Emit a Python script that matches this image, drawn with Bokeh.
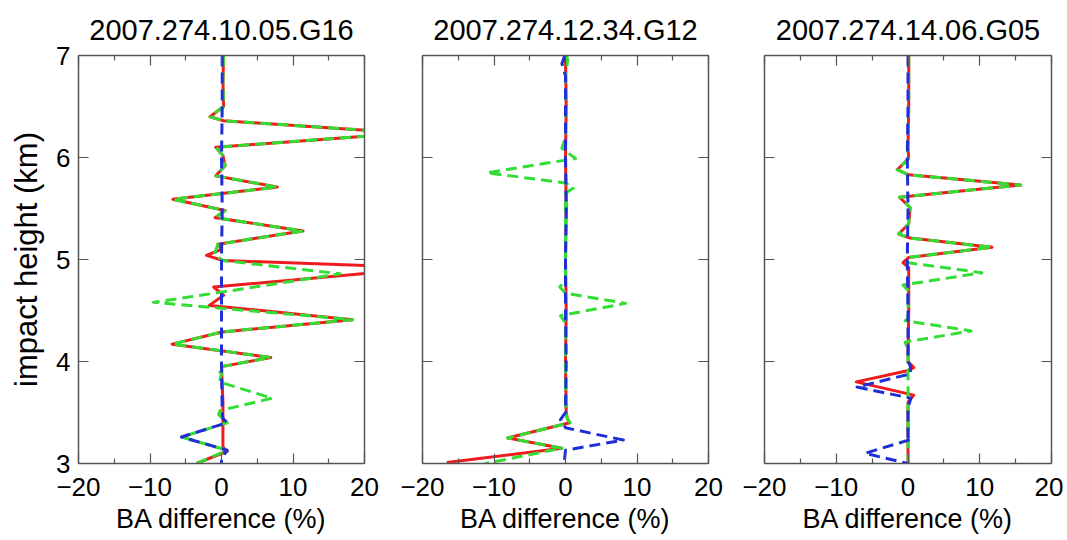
from bokeh.plotting import figure
from bokeh.layouts import row
from bokeh.models import Range1d, LinearAxis, FixedTicker
from bokeh.embed import file_html
from bokeh.resources import INLINE

# ---------------- data ----------------
titles = ["2007.274.10.05.G16", "2007.274.12.34.G12", "2007.274.14.06.G05"]
x_label = "BA difference (%)"
y_label = "impact height (km)"
x_ticks = [-20, -10, 0, 10, 20]
x_tick_labels = ["\u221220", "\u221210", "0", "10", "20"]
x_minor_ticks = [-15, -5, 5, 15]
y_ticks = [3, 4, 5, 6, 7]
y_tick_labels = ["3", "4", "5", "6", "7"]

# Panel 1 (G16)
p1_red_x = [0.3, 0.2, 0.3, -1.6, 0.3, 26.0, -0.8, 0.2, 0.5, -0.8, 7.8, -6.8, 0.5, -0.9, 11.4, -0.5, 0.0, -2.1, 0.2, 29.0, -1.1, 0.3, -1.7, 18.3, 0.1, -6.9, 6.9, 0.0, 0.2, 0.2, 0.8, -3.5]
p1_red_y = [7.0, 6.75, 6.50, 6.40, 6.36, 6.24, 6.10, 6.02, 5.92, 5.82, 5.71, 5.59, 5.48, 5.41, 5.28, 5.15, 5.10, 5.04, 4.99, 4.92, 4.73, 4.65, 4.55, 4.41, 4.29, 4.17, 4.04, 3.95, 3.60, 3.16, 3.12, 3.0]
p1_green_x = [0.3, 0.2, 0.3, -1.6, 0.3, 26.0, -0.8, 0.2, 0.5, -0.8, 7.8, -6.8, 0.5, -0.9, 11.4, -0.5, -1.0, 0.2, 16.6, 0.0, -9.5, 0.3, 18.3, 0.1, -6.9, 6.9, 0.0, -0.5, 0.0, -0.3, 7.1, -0.2, -0.4, 0.8, -5.6, 0.8, -3.5]
p1_green_y = [7.0, 6.75, 6.50, 6.40, 6.36, 6.24, 6.10, 6.02, 5.92, 5.82, 5.71, 5.59, 5.48, 5.41, 5.28, 5.15, 5.05, 4.99, 4.86, 4.68, 4.58, 4.52, 4.41, 4.29, 4.17, 4.04, 3.95, 3.92, 3.88, 3.80, 3.64, 3.52, 3.48, 3.40, 3.26, 3.13, 3.0]
p1_blue_x = [0.1, 0.1, 0.0, 0.1, 0.0, 0.0, 0.0, 0.1, 0.2, 0.8, -5.6, 0.8, 0.0, 0.0]
p1_blue_y = [7.0, 6.5, 6.0, 5.5, 5.0, 4.5, 4.0, 3.5, 3.44, 3.40, 3.26, 3.13, 3.05, 3.0]

# Panel 2 (G12)
p2_red_x = [0.0, 0.1, 0.0, 0.1, 0.0, 0.1, 0.0, 0.1, 0.3, 0.6, -8.1, -0.5, -16.6]
p2_red_y = [7.0, 6.5, 6.0, 5.5, 5.0, 4.5, 4.0, 3.5, 3.43, 3.40, 3.25, 3.15, 3.01]
p2_green_x = [0.2, 0.3, 0.0, 0.0, -0.5, 1.4, -11.0, 0.0, 1.1, 0.0, 0.0, -0.8, 0.0, 8.4, -0.7, 0.0, 0.0, 0.3, 0.6, -8.1, -0.5, -11.2]
p2_green_y = [7.0, 6.95, 6.8, 6.2, 6.09, 5.99, 5.85, 5.75, 5.70, 5.65, 4.80, 4.73, 4.67, 4.57, 4.45, 4.38, 3.50, 3.43, 3.40, 3.25, 3.15, 3.0]
p2_blue_x = [-0.1, -0.5, 0.0, 0.0, 0.1, 0.0, 0.0, 0.1, 0.0, -0.7, 0.0, 8.1, 0.0, -0.2]
p2_blue_y = [7.0, 6.92, 6.8, 6.0, 5.5, 5.0, 4.5, 4.0, 3.5, 3.43, 3.35, 3.23, 3.13, 3.0]

# Panel 3 (G05)
p3_red_x = [0.1, 0.1, 0.0, 0.1, -1.5, 0.1, 15.7, -1.2, 0.3, 0.1, -1.3, 0.3, 11.7, 0.1, -0.7, 0.1, 0.1, 0.0, 0.8, -0.1, -7.2, 0.8, 0.0, 0.0]
p3_red_y = [7.0, 6.5, 6.1, 5.99, 5.88, 5.83, 5.73, 5.61, 5.51, 5.35, 5.25, 5.21, 5.12, 5.02, 4.97, 4.92, 4.50, 4.00, 3.94, 3.91, 3.80, 3.67, 3.60, 3.0]
p3_green_x = [0.1, 0.1, 0.0, 0.1, -1.5, 0.1, 15.7, -1.2, 0.3, 0.1, -1.3, 0.3, 11.7, 0.1, -0.2, 10.3, -0.7, 0.0, 0.0, -0.4, 8.8, -0.4, 0.0, 0.0]
p3_green_y = [7.0, 6.5, 6.1, 5.99, 5.88, 5.83, 5.73, 5.61, 5.51, 5.35, 5.25, 5.21, 5.12, 5.02, 4.97, 4.87, 4.75, 4.70, 4.42, 4.40, 4.30, 4.19, 4.12, 3.0]
p3_blue_x = [0.0, 0.0, -0.1, 0.0, -0.1, 0.0, 0.0, 0.3, 0.4, -7.1, 0.4, 0.0, 0.0, 0.6, -6.0, 0.0]
p3_blue_y = [7.0, 6.5, 6.0, 5.5, 5.0, 4.5, 4.0, 3.96, 3.88, 3.75, 3.64, 3.55, 3.26, 3.24, 3.10, 3.0]

panels = [
    (p1_red_x, p1_red_y, p1_green_x, p1_green_y, p1_blue_x, p1_blue_y),
    (p2_red_x, p2_red_y, p2_green_x, p2_green_y, p2_blue_x, p2_blue_y),
    (p3_red_x, p3_red_y, p3_green_x, p3_green_y, p3_blue_x, p3_blue_y),
]

# ---------------- styling ----------------
FONT = "Liberation Sans"
RED = "#ee1c1c"
GREEN = "#33dd33"
BLUE = "#1f2fd6"
AXIS_COLOR = "#555555"

borders = [(78, 29), (29, 28), (28, 12)]
frame_widths = [286, 286, 287]


def style_axis(ax, show_labels, is_x):
    ax.axis_line_color = AXIS_COLOR
    ax.axis_line_width = 1.5
    ax.major_tick_line_color = AXIS_COLOR
    ax.minor_tick_line_color = AXIS_COLOR
    ax.major_tick_line_width = 1.2
    ax.minor_tick_line_width = 1.2
    ax.major_tick_in = 10
    ax.major_tick_out = 0
    ax.minor_tick_in = 5 if is_x else 0
    ax.minor_tick_out = 0
    ax.major_label_text_font = FONT
    ax.major_label_text_font_size = "26px"
    ax.major_label_text_color = "black"
    ax.axis_label_text_font = FONT
    ax.axis_label_text_font_size = "27px"
    ax.axis_label_text_font_style = "normal"
    ax.axis_label_text_color = "black"
    if is_x:
        ax.ticker = FixedTicker(ticks=x_ticks, minor_ticks=x_minor_ticks)
        labels = x_tick_labels
        ticks = x_ticks
    else:
        ax.ticker = FixedTicker(ticks=y_ticks, minor_ticks=[])
        labels = y_tick_labels
        ticks = y_ticks
    if show_labels:
        ax.major_label_overrides = {t: l for t, l in zip(ticks, labels)}
    else:
        ax.major_label_overrides = {t: "" for t in ticks}
        ax.major_label_text_font_size = "0px"
        ax.major_label_standoff = 0


figs = []
for i, (rx, ry, gx, gy, bx, by) in enumerate(panels):
    bl, br = borders[i]
    p = figure(
        frame_width=frame_widths[i], frame_height=408,
        x_range=Range1d(-20, 20), y_range=Range1d(3, 7),
        output_backend="svg", toolbar_location=None,
        min_border_left=bl, min_border_right=br,
        min_border_top=55, min_border_bottom=76,
        title=titles[i],
    )
    p.title.text_font = FONT
    p.title.text_font_size = "29px"
    p.title.text_font_style = "normal"
    p.title.text_line_height = 1.0
    p.title.align = "center"
    p.title.text_color = "black"
    p.title.standoff = 20
    p.outline_line_color = None
    p.xgrid.visible = False
    p.ygrid.visible = False
    p.background_fill_color = "white"
    p.border_fill_color = "white"

    p.add_layout(LinearAxis(), "above")
    p.add_layout(LinearAxis(), "right")

    for ax in p.below:
        if isinstance(ax, LinearAxis):
            style_axis(ax, True, True)
            ax.axis_label = x_label
            ax.major_label_standoff = 14
            ax.axis_label_standoff = 5
    for ax in p.above:
        if isinstance(ax, LinearAxis):
            style_axis(ax, False, True)
    for ax in p.left:
        style_axis(ax, i == 0, False)
        if i == 0:
            ax.axis_label = y_label
            ax.axis_label_text_font_size = "31px"
            ax.major_label_standoff = 8
            ax.axis_label_standoff = 9
    for ax in p.right:
        style_axis(ax, False, False)

    p.line(rx, ry, line_color=RED, line_width=3, line_join="round")
    p.line(gx, gy, line_color=GREEN, line_width=3, line_dash="11 6", line_join="round")
    p.line(bx, by, line_color=BLUE, line_width=3, line_dash="11 6", line_join="round")
    figs.append(p)

layout = row(*figs)
open("out.html", "w").write(file_html(layout, INLINE))
